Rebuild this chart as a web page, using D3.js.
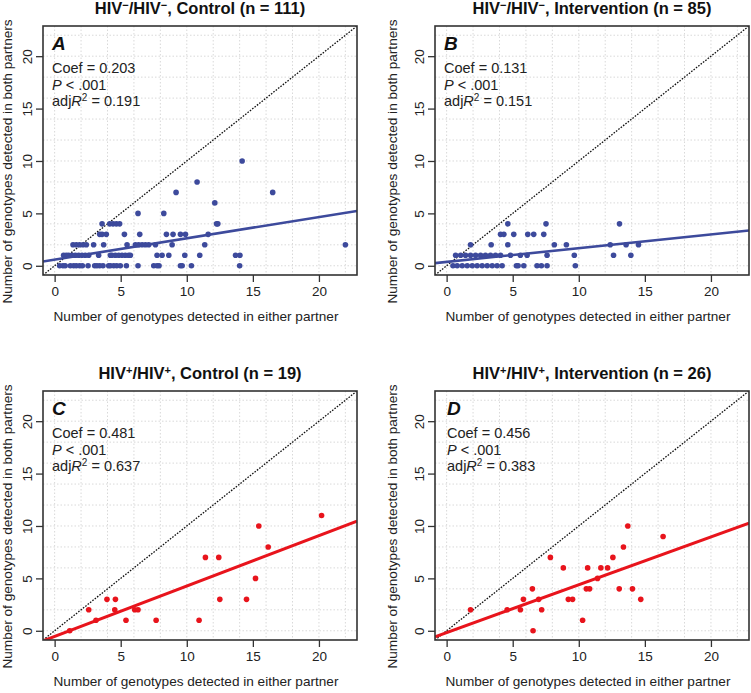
<!DOCTYPE html>
<html lang="en">
<head>
<meta charset="UTF-8">
<title>Genotypes detected in both partners</title>
<script src="https://cdnjs.cloudflare.com/ajax/libs/d3/7.8.4/d3.min.js"></script>
<style>
    body { margin: 0; background: #fff; }
    svg { font-family: "Liberation Sans", Arial, sans-serif; display: block; }
</style>
</head>
<body>
<svg width="751" height="693"></svg>
<script>
    // panel A: HIV-/HIV-, control
    const aX = [0.38, 0.63, 0.8, 1.19, 1.44, 1.64, 1.89, 2.1, 2.53, 3.03, 3.2, 3.41, 3.66, 4.09, 4.22, 4.47, 4.7, 4.97, 5.43, 6.31, 7.5, 7.75, 7.9, 9.52, 9.65, 10.35, 14.0,
                0.68, 0.88, 1.06, 1.31, 1.57, 1.82, 2.07, 2.32, 2.58, 3.33, 4.22, 4.34, 4.6, 4.85, 5.1, 5.35, 5.6, 5.73, 7.75, 8.13, 8.64, 9.85, 10.98, 13.69, 14.02,
                1.39, 1.64, 1.89, 2.15, 2.4, 2.95, 3.71, 5.48, 6.11, 6.36, 6.62, 6.87, 7.12, 7.63, 8.89, 11.36, 22.0,
                3.41, 3.59, 3.91, 5.28, 6.44, 8.46, 8.96, 9.52, 9.9, 11.62,
                3.59, 4.17, 4.42, 4.67, 4.92, 12.25, 12.35,
                6.31, 8.26, 12.12, 9.19, 16.5, 10.78, 14.19];
    const aY = [0, 0, 0, 0, 0, 0, 0, 0, 0, 0, 0, 0, 0, 0, 0, 0, 0, 0, 0, 0, 0, 0, 0, 0, 0, 0, 0,
                1, 1, 1, 1, 1, 1, 1, 1, 1, 1, 1, 1, 1, 1, 1, 1, 1, 1, 1, 1, 1, 1, 1, 1, 1,
                2, 2, 2, 2, 2, 2, 2, 2, 2, 2, 2, 2, 2, 2, 2, 2, 2,
                3, 3, 3, 3, 3, 3, 3, 3, 3, 3,
                4, 4, 4, 4, 4, 4, 4,
                5, 5, 6, 7, 7, 8, 10];

    // panel B: HIV-/HIV-, intervention
    const bX = [0.48, 0.8, 1.18, 1.56, 1.94, 2.31, 2.69, 3.07, 3.45, 3.82, 4.2, 5.28, 5.41, 5.84, 6.84, 7.17, 7.6, 9.74,
                0.68, 1.06, 1.43, 1.81, 2.19, 2.57, 2.94, 3.32, 3.7, 4.08, 4.83, 5.58, 6.09, 7.6, 9.66, 12.63, 13.94,
                1.81, 3.37, 4.63, 8.15, 9.06, 12.38, 13.58, 14.52,
                4.08, 4.33, 5.08, 6.14, 6.59, 7.35,
                4.63, 7.52, 13.08];
    const bY = [0, 0, 0, 0, 0, 0, 0, 0, 0, 0, 0, 0, 0, 0, 0, 0, 0, 0,
                1, 1, 1, 1, 1, 1, 1, 1, 1, 1, 1, 1, 1, 1, 1, 1, 1,
                2, 2, 2, 2, 2, 2, 2, 2,
                3, 3, 3, 3, 3, 3,
                4, 4, 4];

    // panel C: HIV+/HIV+, control
    const cX = [1.14, 2.58, 3.13, 3.96, 4.6, 4.55, 5.4, 6.06, 6.31, 7.68, 10.93, 11.41, 12.42, 12.5, 14.52, 15.2, 15.45, 16.16, 20.2];
    const cY = [0, 2, 1, 3, 3, 2, 1, 2, 2, 1, 1, 7, 7, 3, 3, 5, 10, 8, 11];

    // panel D: HIV+/HIV+, intervention
    const dX = [1.81, 4.58, 5.58, 5.81, 6.49, 6.54, 6.97, 7.19, 7.85, 8.83, 9.21, 9.53, 10.29, 10.57, 10.67, 10.82, 11.42, 11.67, 12.18, 12.58, 13.06, 13.38, 13.71, 14.06, 14.69, 16.38];
    const dY = [2, 2, 2, 3, 4, 0, 3, 2, 7, 6, 3, 3, 1, 4, 6, 4, 5, 6, 6, 7, 4, 8, 10, 4, 3, 9];

    const panelLetters = ["A", "B", "C", "D"];
    const sign = ["−", "−", "+", "+"];
    const arms = ["Control", "Intervention", "Control", "Intervention"];
    const nPairs = [111, 85, 19, 26];
    const coefs = [0.203, 0.131, 0.481, 0.456];
    const intercepts = [0.59, 0.37, -0.54, -0.17];
    const adjR2 = ["0.191", "0.151", "0.637", "0.383"];
    const pText = [".001", ".001", ".001", ".001"];

    const tickVals = [0, 5, 10, 15, 20];
    const gridVals = d3.range(0, 23, 2);
    const lim = [-0.88, 22.88];

    const blue = "#3d4a9c", red = "#e8141c";
    const panels = [
        { xs: aX, ys: aY, color: blue, box: [43, 357, 26, 275], ylabX: 7, textDx: 9 },
        { xs: bX, ys: bY, color: blue, box: [435, 749, 26, 275], ylabX: 392, textDx: 9 },
        { xs: cX, ys: cY, color: red, box: [43, 357, 391, 640], ylabX: 7, textDx: 9 },
        { xs: dX, ys: dY, color: red, box: [435, 749, 391, 640], ylabX: 392, textDx: 12 }
    ];

    const svg = d3.select("svg");

    panels.forEach((p, i) => {
        const [x0, x1, y0, y1] = p.box;
        const x = d3.scaleLinear().domain(lim).range([x0, x1]);
        const y = d3.scaleLinear().domain(lim).range([y1, y0]);
        const g = svg.append("g");

        g.append("clipPath").attr("id", "clip" + i)
            .append("rect").attr("x", x0).attr("y", y0).attr("width", x1 - x0).attr("height", y1 - y0);

        // grid
        g.selectAll("line.gx").data(gridVals).enter().append("line")
            .attr("x1", d => x(d)).attr("x2", d => x(d)).attr("y1", y0).attr("y2", y1)
            .style("stroke", "#d9d9d9").style("stroke-dasharray", "1.5,2");
        g.selectAll("line.gy").data(gridVals).enter().append("line")
            .attr("y1", d => y(d)).attr("y2", d => y(d)).attr("x1", x0).attr("x2", x1)
            .style("stroke", "#d9d9d9").style("stroke-dasharray", "1.5,2");

        const plot = g.append("g").attr("clip-path", `url(#clip${i})`);

        // identity line
        plot.append("line")
            .attr("x1", x(lim[0])).attr("y1", y(lim[0]))
            .attr("x2", x(lim[1])).attr("y2", y(lim[1]))
            .style("stroke", "#111").style("stroke-width", 1.3).style("stroke-dasharray", "1.6,1.4");

        // points
        plot.selectAll("circle").data(p.xs.map((v, k) => [v, p.ys[k]])).enter().append("circle")
            .attr("cx", d => x(d[0])).attr("cy", d => y(d[1])).attr("r", 2.8)
            .style("fill", p.color);

        // fitted line
        plot.append("line")
            .attr("x1", x(lim[0])).attr("y1", y(intercepts[i] + coefs[i] * lim[0]))
            .attr("x2", x(lim[1])).attr("y2", y(intercepts[i] + coefs[i] * lim[1]))
            .style("stroke", p.color).style("stroke-width", i < 2 ? 2.6 : 3);

        // box
        g.append("rect").attr("x", x0).attr("y", y0).attr("width", x1 - x0).attr("height", y1 - y0)
            .style("fill", "none").style("stroke", "#333").style("stroke-width", 1.6);

        // axes
        const xa = g.append("g").attr("transform", `translate(0,${y1})`)
            .call(d3.axisBottom(x).tickValues(tickVals).tickSize(7).tickPadding(4));
        const ya = g.append("g").attr("transform", `translate(${x0},0)`)
            .call(d3.axisLeft(y).tickValues(tickVals).tickSize(7));
        [xa, ya].forEach(a => {
            a.select(".domain").remove();
            a.selectAll("line").style("stroke", "#333").style("stroke-width", 1.3);
            a.selectAll("text").style("font-size", "13.5px").style("fill", "#222")
                .style("font-family", "'Liberation Sans', Arial, sans-serif");
        });
        ya.selectAll("text")
            .attr("transform", "rotate(-90)")
            .attr("x", 0).attr("y", -16).attr("dy", "0.35em")
            .style("text-anchor", "middle");

        // axis titles
        g.append("text").attr("x", (x0 + x1) / 2 - 4).attr("y", y1 + 46)
            .style("text-anchor", "middle").style("font-size", "13.6px").style("fill", "#222")
            .text("Number of genotypes detected in either partner");
        g.append("text")
            .attr("transform", `translate(${p.ylabX},${(y0 + y1) / 2 + 11}) rotate(-90)`)
            .attr("dy", "0.35em")
            .style("text-anchor", "middle").style("font-size", "13.6px").style("fill", "#222")
            .text("Number of genotypes detected in both partners");

        // panel title
        const t = g.append("text").attr("x", (x0 + x1) / 2).attr("y", y0 - 12)
            .style("text-anchor", "middle").style("font-size", "16.5px").style("font-weight", "bold").style("fill", "#111");
        t.append("tspan").text("HIV");
        t.append("tspan").attr("dy", -5).style("font-size", "11px").text(sign[i]);
        t.append("tspan").attr("dy", 5).text("/HIV");
        t.append("tspan").attr("dy", -5).style("font-size", "11px").text(sign[i]);
        t.append("tspan").attr("dy", 5).text(`, ${arms[i]} (n = ${nPairs[i]})`);

        // annotations
        const tx = x0 + p.textDx;
        g.append("text").attr("x", tx).attr("y", y0 + 24)
            .style("font-size", "19px").style("font-weight", "bold").style("font-style", "italic").style("fill", "#111")
            .text(panelLetters[i]);
        g.append("text").attr("x", tx).attr("y", y0 + 47)
            .style("font-size", "14.5px").style("fill", "#222")
            .text(`Coef = ${coefs[i].toFixed(3)}`);
        const pt = g.append("text").attr("x", tx).attr("y", y0 + 63.5)
            .style("font-size", "14.5px").style("fill", "#222");
        pt.append("tspan").style("font-style", "italic").text("P");
        pt.append("tspan").text(` < ${pText[i]}`);
        const rt = g.append("text").attr("x", tx).attr("y", y0 + 80)
            .style("font-size", "14.5px").style("fill", "#222");
        rt.append("tspan").text("adj");
        rt.append("tspan").style("font-style", "italic").text("R");
        rt.append("tspan").attr("dy", -5).style("font-size", "10px").text("2");
        rt.append("tspan").attr("dy", 5).text(` = ${adjR2[i]}`);
    });
</script>
</body>
</html>
